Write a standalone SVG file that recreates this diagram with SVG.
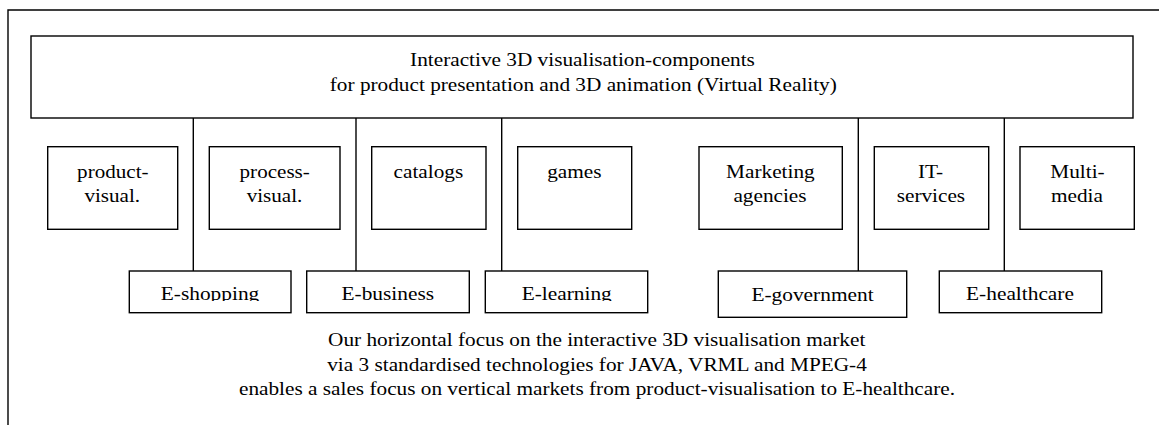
<svg xmlns="http://www.w3.org/2000/svg" width="1159" height="425" viewBox="0 0 1159 425">
<style>
.b{fill:#fff;stroke:#000;stroke-width:1.4}
.l{stroke:#000;stroke-width:1.4;fill:none}
text{font-family:'Liberation Serif',serif;font-size:18.5px;fill:#000;text-anchor:middle}
</style>
<defs>
<clipPath id="clipRow" clipPathUnits="userSpaceOnUse"><rect x="-200" y="-29" width="400" height="30"/></clipPath>
</defs>
<rect width="1159" height="425" fill="#fff"/>
<g id="frame"><path class="l" d="M8,425 V10 H1160"/></g>
<g id="connectors">
<line class="l" x1="193.3" y1="118" x2="193.3" y2="271"/>
<line class="l" x1="356" y1="118" x2="356" y2="271"/>
<line class="l" x1="501.7" y1="118" x2="501.7" y2="271"/>
<line class="l" x1="858.3" y1="118" x2="858.3" y2="271"/>
<line class="l" x1="1004.3" y1="118" x2="1004.3" y2="271"/>
</g>
<g id="top">
<rect class="b" x="31" y="36" width="1102" height="82"/>
<text transform="translate(582.5,65.5) scale(1.15,1)">Interactive 3D visualisation-components</text>
<text transform="translate(583.3,90.7) scale(1.15,1)">for product presentation and 3D animation (Virtual Reality)</text>
</g>
<g id="product">
<rect class="b" x="47.7" y="146.7" width="130" height="82.6"/>
<text transform="translate(112.8,178.3) scale(1.14,1)">product-</text>
<text transform="translate(112.2,201.7) scale(1.14,1)">visual.</text>
</g>
<g id="process">
<rect class="b" x="209.3" y="146.7" width="130.7" height="82.6"/>
<text transform="translate(274.7,178.3) scale(1.14,1)">process-</text>
<text transform="translate(274.5,201.7) scale(1.14,1)">visual.</text>
</g>
<g id="catalogs">
<rect class="b" x="371.7" y="146.7" width="114.3" height="82.6"/>
<text transform="translate(428.4,178.3) scale(1.15,1)">catalogs</text>
</g>
<g id="games">
<rect class="b" x="517.7" y="146.7" width="114" height="82.6"/>
<text transform="translate(574.4,178.3) scale(1.15,1)">games</text>
</g>
<g id="marketing">
<rect class="b" x="699" y="146.7" width="143.3" height="82.6"/>
<text transform="translate(770.4,178.3) scale(1.15,1)">Marketing</text>
<text transform="translate(770,201.7) scale(1.15,1)">agencies</text>
</g>
<g id="itservices">
<rect class="b" x="874.3" y="146.7" width="114.4" height="82.6"/>
<text transform="translate(930.5,178.3) scale(1.15,1)">IT-</text>
<text transform="translate(930.9,201.7) scale(1.15,1)">services</text>
</g>
<g id="multimedia">
<rect class="b" x="1020" y="146.7" width="114.3" height="82.6"/>
<text transform="translate(1077.5,178.3) scale(1.15,1)">Multi-</text>
<text transform="translate(1077,201.7) scale(1.15,1)">media</text>
</g>
<g id="eshopping">
<rect class="b" x="129.3" y="271" width="161.7" height="41.7"/>
<text transform="translate(210,300) scale(1.155,1)" clip-path="url(#clipRow)">E-shopping</text>
</g>
<g id="ebusiness">
<rect class="b" x="306.7" y="271" width="162.6" height="41.7"/>
<text transform="translate(387.8,300) scale(1.155,1)" clip-path="url(#clipRow)">E-business</text>
</g>
<g id="elearning">
<rect class="b" x="485.3" y="271" width="162.4" height="41.7"/>
<text transform="translate(566.7,300) scale(1.155,1)" clip-path="url(#clipRow)">E-learning</text>
</g>
<g id="egovernment">
<rect class="b" x="718.3" y="271" width="188.4" height="46.3"/>
<text transform="translate(812.5,300.7) scale(1.155,1)">E-government</text>
</g>
<g id="ehealthcare">
<rect class="b" x="939.3" y="271" width="162.4" height="41.7"/>
<text transform="translate(1020,300) scale(1.155,1)">E-healthcare</text>
</g>
<g id="caption">
<text transform="translate(596.7,346.3) scale(1.15,1)">Our horizontal focus on the interactive 3D visualisation market</text>
<text transform="translate(597,371) scale(1.15,1)">via 3 standardised technologies for JAVA, VRML and MPEG-4</text>
<text transform="translate(597,395.3) scale(1.15,1)">enables a sales focus on vertical markets from product-visualisation to E-healthcare.</text>
</g>
</svg>
